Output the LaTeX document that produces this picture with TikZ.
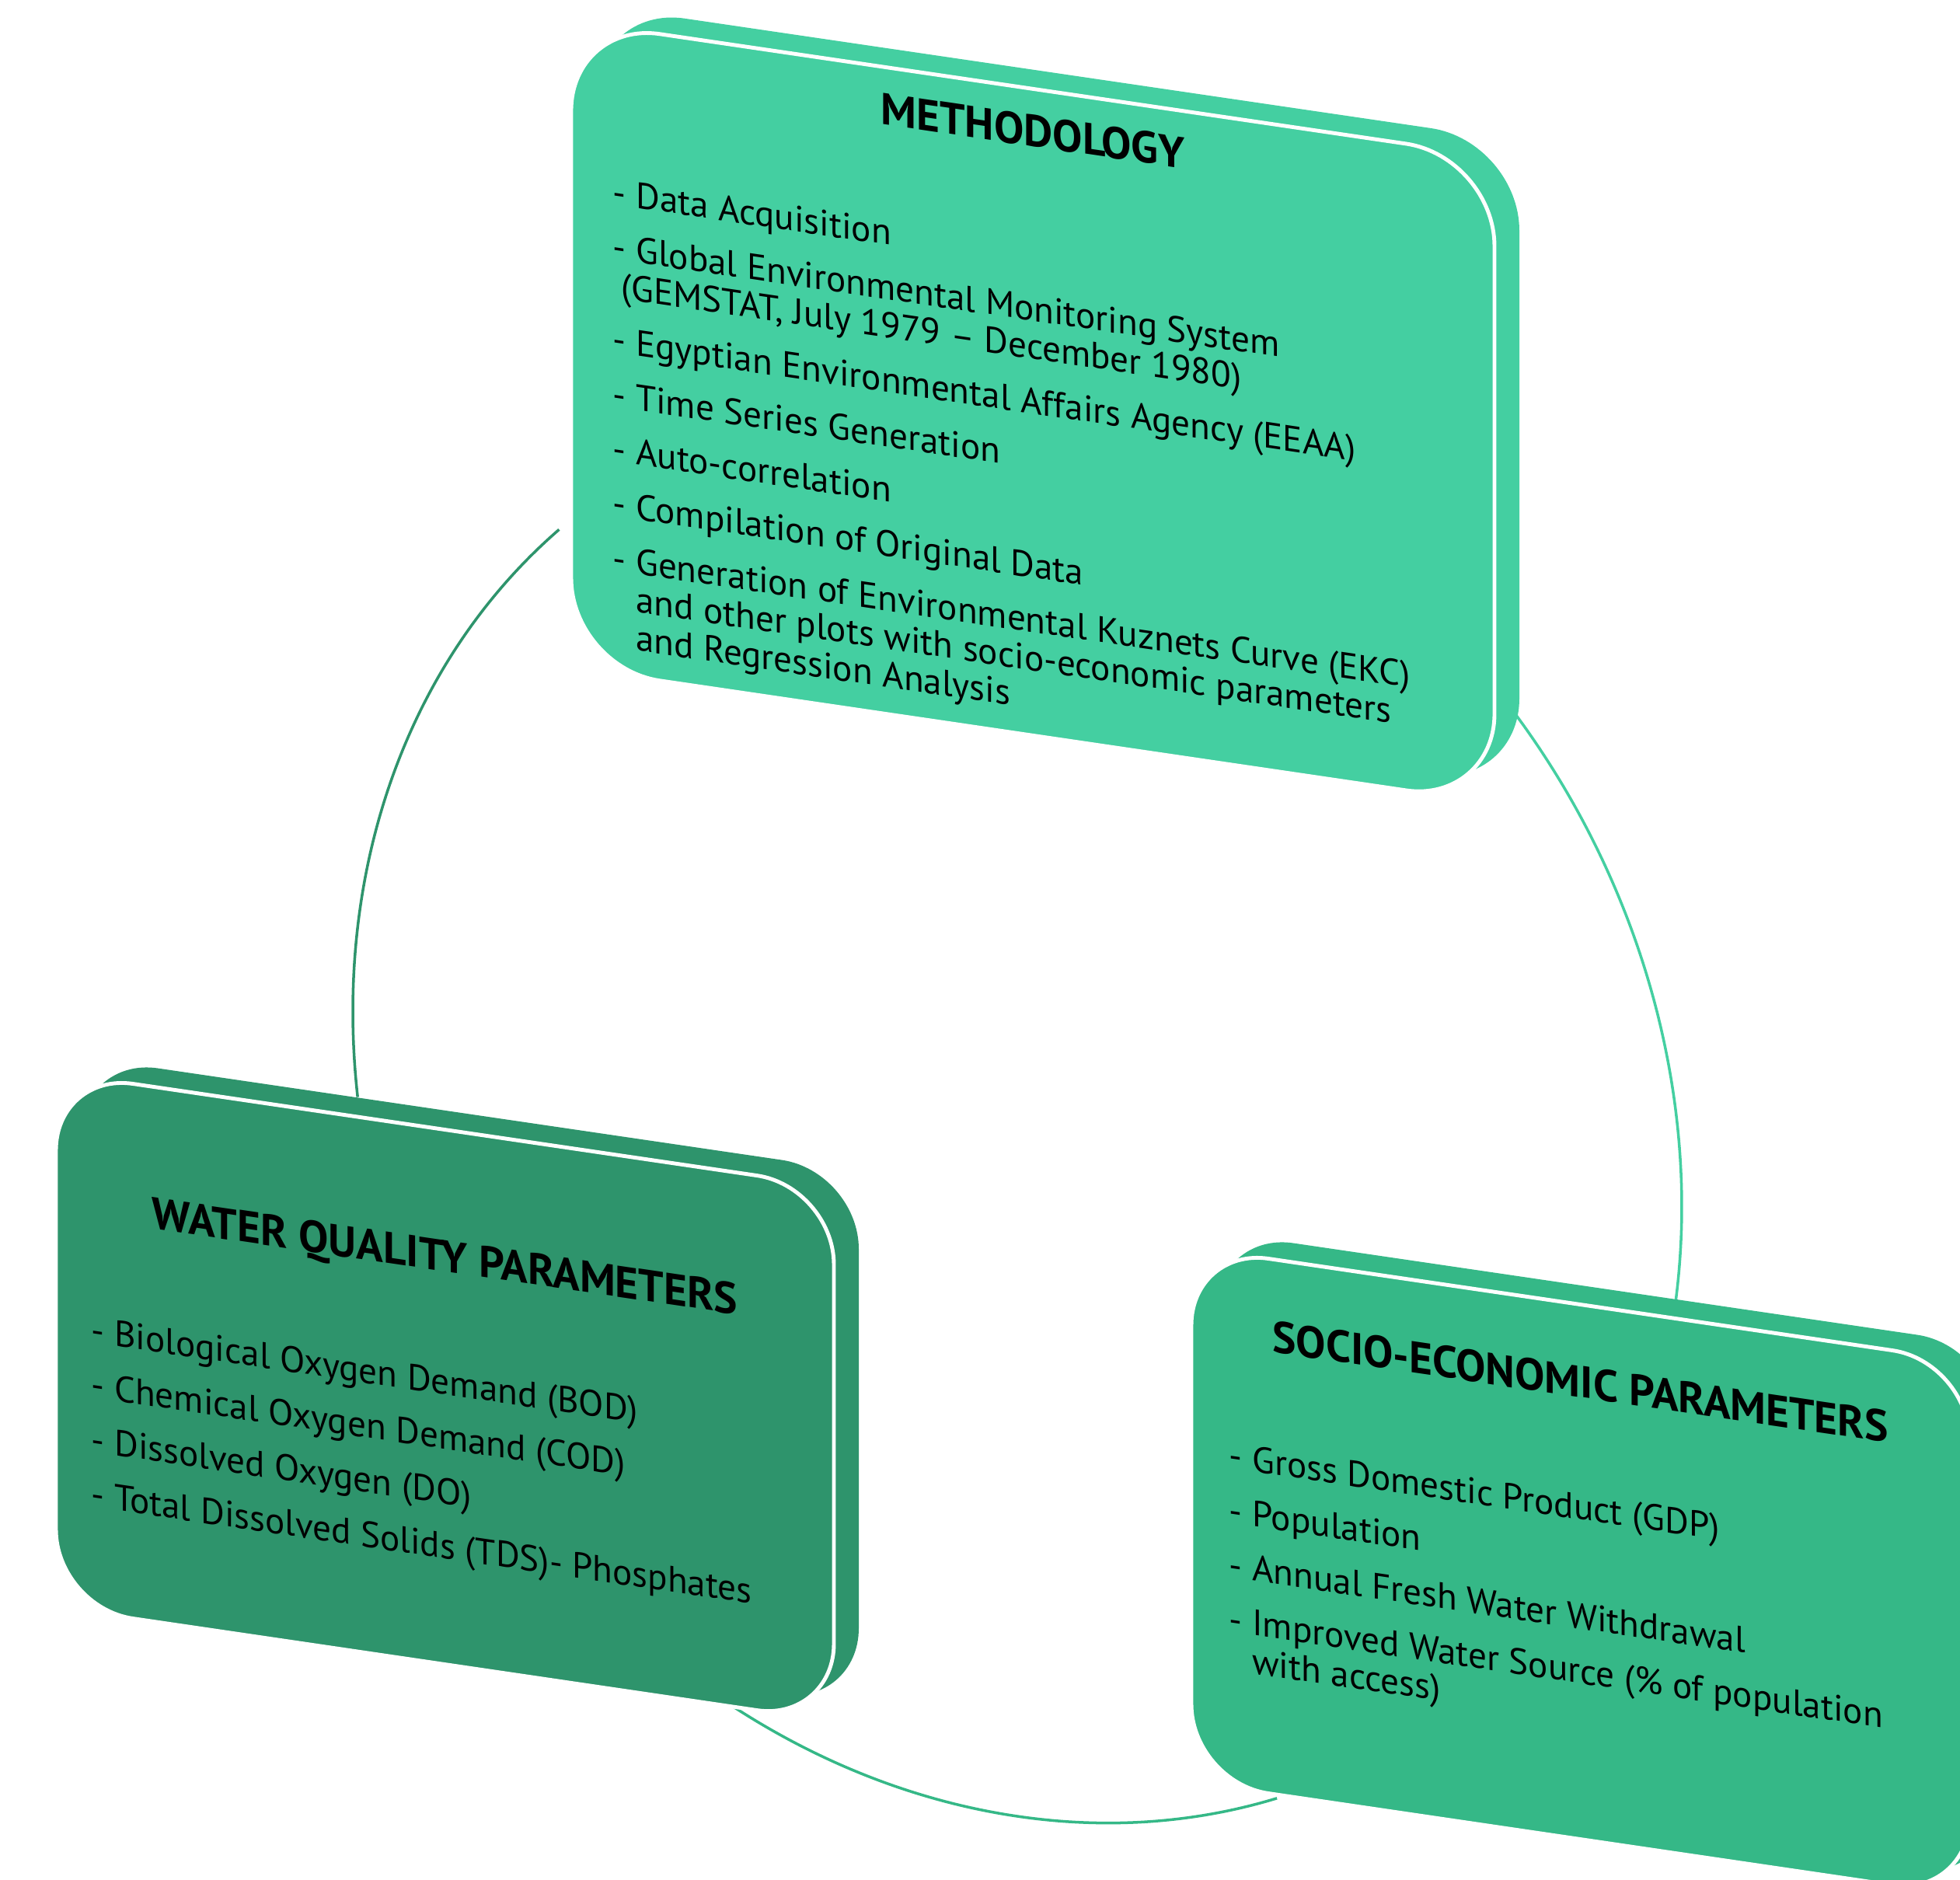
\documentclass[tikz,border=0pt]{standalone}
\usepackage{fontspec}
\setmainfont{PT Sans}
\usetikzlibrary{calc}

\definecolor{methgreen}{HTML}{44CFA1}
\definecolor{qualgreen}{HTML}{2E946C}
\definecolor{socgreen}{HTML}{35B887}

\begin{document}
\begin{tikzpicture}[
  card/.style={rectangle, transform shape, inner sep=0pt},
  bigcard/.style={card, minimum width=11.88cm, minimum height=8.32cm, rounded corners=1.15cm},
  smallcard/.style={card, minimum width=10.01cm, minimum height=6.88cm, rounded corners=1cm},
  face/.style={draw=white, line width=1.4pt},
  cardtitle/.style={transform shape, inner sep=0pt, anchor=base, font=\fontsize{16.3}{18}\selectfont\bfseries},
  cardlist/.style={transform shape, inner sep=0pt, anchor=north west, align=left, font=\fontsize{13.4}{14}\selectfont},
  ring/.style={line width=1pt}
]
  \useasboundingbox (0,0) rectangle (25.22,24.18);
  \clip (0,0) rectangle (25.22,24.18);

 \begin{scope}[yslant=-0.147]
  \coordinate (hub) at (13.09,11.834);
  \coordinate (ringL) at ($(hub)+(133.6:8.55 and 9.10)$);
  \coordinate (ringR) at ($(hub)+(42:8.55 and 9.10)$);
  \coordinate (ringB) at ($(hub)+(243:8.55 and 9.10)$);

  \draw[ring, qualgreen] (ringL) arc[start angle=133.6, end angle=186.9, x radius=8.55, y radius=9.10];
  \draw[ring, methgreen] (ringR) arc[start angle=42, end angle=-7.7, x radius=8.55, y radius=9.10];
  \draw[ring, socgreen] (ringB) arc[start angle=243, end angle=293, x radius=8.55, y radius=9.10];

  \node[bigcard, fill=methgreen] (methback) at (13.61,21.077) {};
  \node[bigcard, face, fill=methgreen] (meth) at (13.29,20.83) {};

  \node[smallcard, fill=qualgreen] (qualback) at (6.045,7.293) {};
  \node[smallcard, face, fill=qualgreen] (qual) at (5.725,7.046) {};

  \node[smallcard, fill=socgreen] (socback) at (20.655,7.191) {};
  \node[smallcard, face, fill=socgreen] (soc) at (20.335,6.944) {};

  \node[cardtitle] (methtitle) at (13.29,24.25) {METHODOLOGY};
  \node[cardtitle] (qualtitle) at (5.725,8.66) {WATER QUALITY PARAMETERS};
  \node[cardtitle] (soctitle) at (20.335,9.19) {SOCIO-ECONOMIC PARAMETERS};

  \node[cardlist] (methlist) at (7.88,23.05) {- Data Acquisition\\[6pt]
   - Global Environmental Monitoring System\\
   \hspace*{3pt}(GEMSTAT, July 1979 -- December 1980)\\[6pt]
   - Egyptian Environmental Affairs Agency (EEAA)\\[6pt]
   - Time Series Generation\\[6pt]
   - Auto-correlation\\[6pt]
   - Compilation of Original Data\\[6pt]
   - Generation of Environmental Kuznets Curve (EKC)\\
   \phantom{- }and other plots with socio-economic parameters\\
   \phantom{- }and Regression Analysis};

  \node[cardlist] (quallist) at (1.17,7.42) {- Biological Oxygen Demand (BOD)\\[6pt]
   - Chemical Oxygen Demand (COD)\\[6pt]
   - Dissolved Oxygen (DO)\\[6pt]
   - Total Dissolved Solids (TDS)- Phosphates};

  \node[cardlist] (soclist) at (15.81,7.96) {- Gross Domestic Product (GDP)\\[6pt]
   - Population\\[6pt]
   - Annual Fresh Water Withdrawal\\[6pt]
   - Improved Water Source (\% of population\\
   \phantom{- }with access)};
 \end{scope}
\end{tikzpicture}
\end{document}
